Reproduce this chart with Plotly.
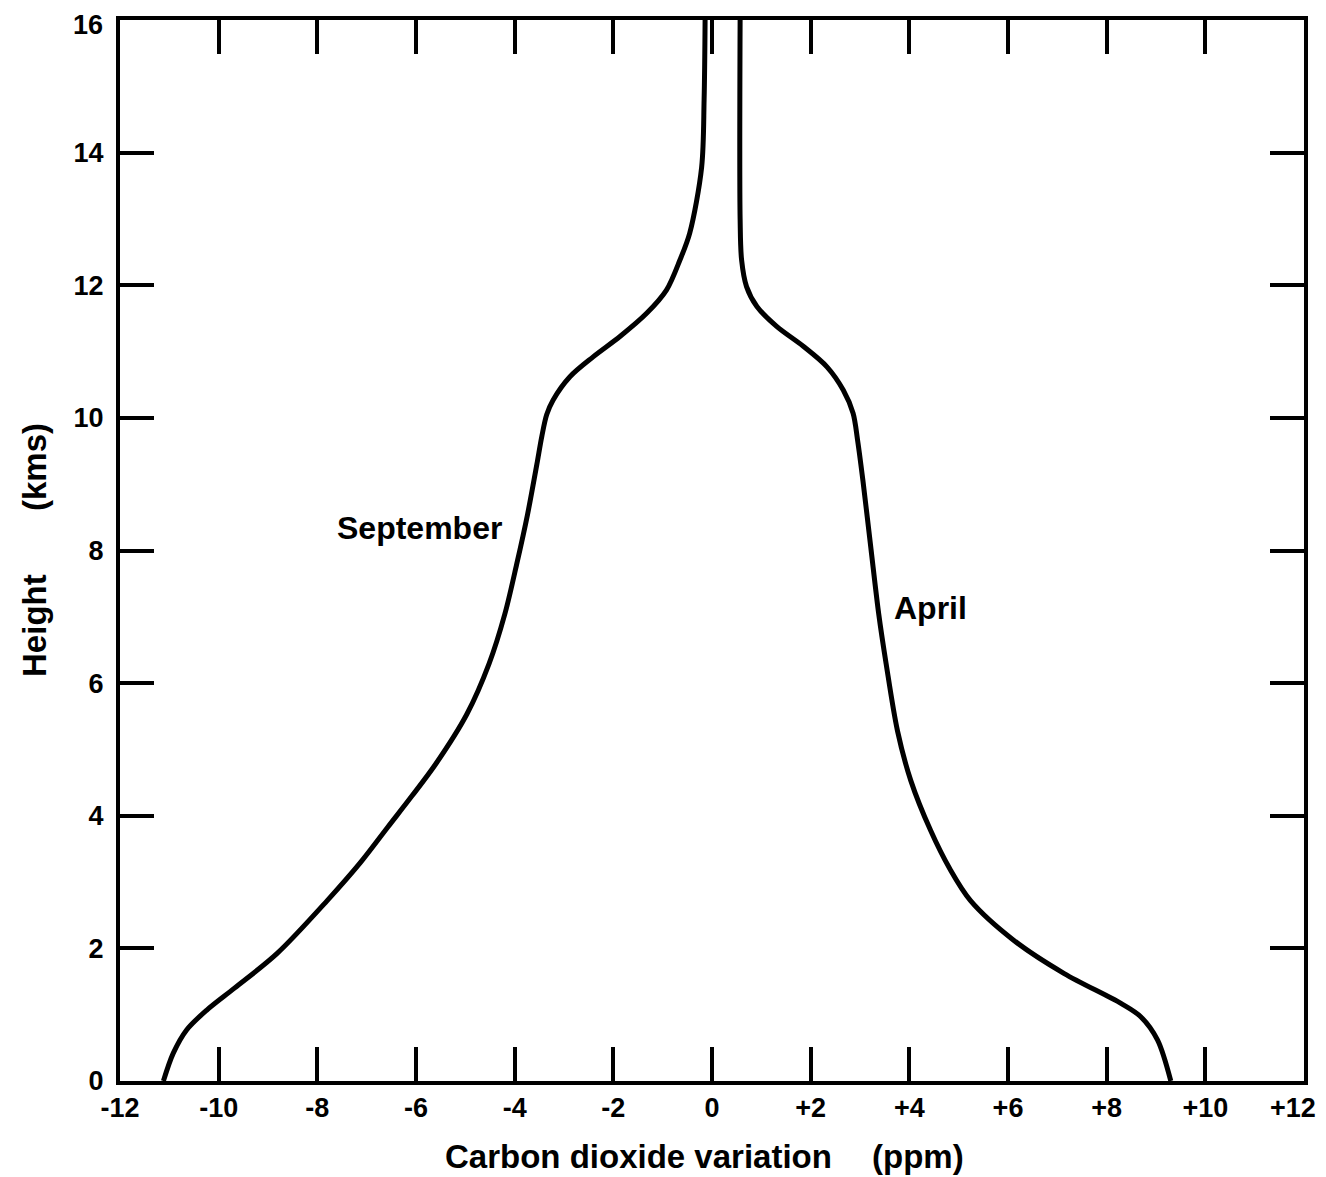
import plotly.graph_objects as go

# September profile (x = CO2 variation ppm, y = height km)
sep_height = [0, 0.42, 0.77, 1.07, 1.4, 1.92, 2.72, 3.3, 3.83, 4.3, 4.78, 5.53, 6.29, 7.04, 7.79,
              8.54, 9.30, 9.72, 10.05, 10.27, 10.62, 10.92, 11.23, 11.58, 11.93, 12.38, 12.79,
              13.78, 14.8, 16]
sep_co2 = [-11.12, -10.92, -10.65, -10.24, -9.68, -8.82, -7.80, -7.12, -6.57, -6.08, -5.60, -4.97,
           -4.52, -4.20, -3.96, -3.74, -3.55, -3.45, -3.35, -3.22, -2.88, -2.41, -1.86, -1.32, -0.92,
           -0.65, -0.45, -0.21, -0.16, -0.14]

# April profile
apr_height = [0, 0.62, 0.97, 1.17, 1.62, 2.12, 2.72, 3.2, 3.78, 4.53, 5.28, 6.29, 7.04, 8.04, 9.05,
              9.67, 10.07, 10.42, 10.77, 11.08, 11.38, 11.68, 11.98, 12.38, 13.0, 16]
apr_co2 = [9.30, 9.03, 8.69, 8.29, 7.14, 6.12, 5.24, 4.82, 4.43, 4.03, 3.76, 3.53, 3.38, 3.22, 3.06,
           2.95, 2.86, 2.66, 2.33, 1.85, 1.31, 0.91, 0.70, 0.60, 0.57, 0.57]

x_tickvals = [-12, -10, -8, -6, -4, -2, 0, 2, 4, 6, 8, 10, 12]
x_ticktext = ["-12", "-10", "-8", "-6", "-4", "-2", "0", "+2", "+4", "+6", "+8", "+10", "+12"]
y_tickvals = [0, 2, 4, 6, 8, 10, 12, 14, 16]
y_ticktext = ["0", "2", "4", "6", "8", "10", "12", "14", "16"]

FONT = "Liberation Sans"
tick_font = dict(family=FONT, size=27, color="black", weight="bold")

fig = go.Figure()
fig.add_trace(go.Scatter(x=sep_co2, y=sep_height, mode="lines", name="September",
                         line=dict(color="black", width=5, shape="spline", smoothing=0.9),
                         showlegend=False))
fig.add_trace(go.Scatter(x=apr_co2, y=apr_height, mode="lines", name="April",
                         line=dict(color="black", width=5, shape="spline", smoothing=0.9),
                         showlegend=False))

fig.add_annotation(x=-5.92, y=8.34, text="September", showarrow=False,
                   font=dict(family=FONT, size=32, color="black", weight="bold"))
fig.add_annotation(x=4.42, y=7.13, text="April", showarrow=False,
                   font=dict(family=FONT, size=32, color="black", weight="bold"))

# axis titles placed as paper annotations
title_font = dict(family=FONT, size=33, color="black", weight="bold")
fig.add_annotation(xref="paper", yref="paper", x=0.4383, y=-0.0716, xanchor="center", yanchor="middle",
                   text="Carbon dioxide variation", showarrow=False, font=title_font)
fig.add_annotation(xref="paper", yref="paper", x=0.674, y=-0.0716, xanchor="center", yanchor="middle",
                   text="(ppm)", showarrow=False, font=title_font)
fig.add_annotation(xref="paper", yref="paper", x=-0.0718, y=0.4298, xanchor="center", yanchor="middle",
                   text="Height", showarrow=False, textangle=-90, font=title_font)
fig.add_annotation(xref="paper", yref="paper", x=-0.0718, y=0.5787, xanchor="center", yanchor="middle",
                   text="(kms)", showarrow=False, textangle=-90, font=title_font)

# end tick labels that sit at the page edge are drawn as anchored texts so they stay on the page
fig.add_annotation(x=x_tickvals[-1], xref="x", y=0, yref="paper", xanchor="right", yanchor="top",
                   xshift=14, yshift=-10, text=x_ticktext[-1], showarrow=False, font=tick_font)
fig.add_annotation(x=0, xref="paper", y=y_tickvals[-1], yref="y", xanchor="right", yanchor="top",
                   xshift=-15, yshift=12, text=y_ticktext[-1], showarrow=False, font=tick_font)

axis_common = dict(showgrid=False, zeroline=False, showline=True, linecolor="black", linewidth=4,
                   mirror="ticks", ticks="inside", ticklen=34, tickwidth=4, tickcolor="black",
                   automargin=False)

fig.update_xaxes(range=[-12, 12], tickvals=x_tickvals, ticktext=x_ticktext[:-1] + [""],
                 tickfont=tick_font, **axis_common)
fig.update_yaxes(range=[0, 16], tickvals=y_tickvals, ticktext=y_ticktext[:-1] + [""],
                 tickfont=tick_font, ticklabelstandoff=7, **axis_common)

# the page body adds an 8px margin, so the figure is sized to fit the window
fig.update_layout(width=1318, height=1169, plot_bgcolor="white", paper_bgcolor="white",
                  margin=dict(l=112, r=22, t=12, b=96), showlegend=False)

fig.write_html("out.html")
